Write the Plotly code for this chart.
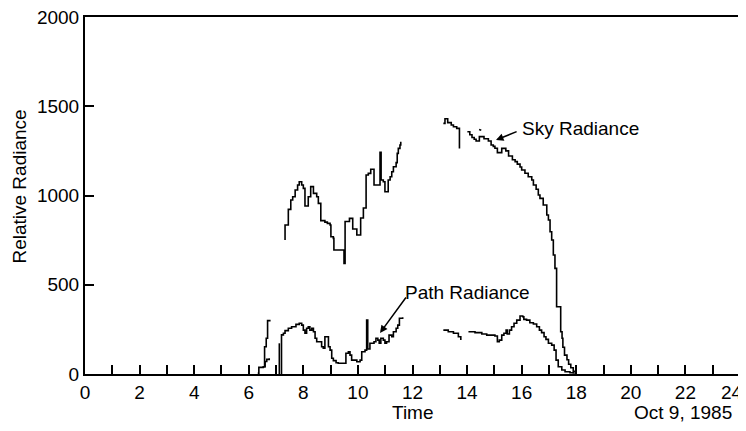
import plotly.graph_objects as go

# ---------------- data (time in hours, relative radiance) ----------------
sky1_t = [7.33, 7.33, 7.45, 7.54, 7.61, 7.70, 7.79, 7.85, 7.94, 8.00, 8.06, 8.18, 8.27, 8.37, 8.49,
          8.55, 8.64, 8.79, 8.88, 8.98, 9.01, 9.10, 9.12, 9.49, 9.53, 9.69, 9.81, 9.96, 10.10,
          10.20, 10.30, 10.38, 10.47, 10.59, 10.81, 10.85, 10.93, 10.99, 11.11, 11.18, 11.24,
          11.30, 11.40, 11.44, 11.48, 11.54, 11.57]
sky1_v = [751, 835, 922, 975, 993, 1031, 1059, 1077, 1059, 1040, 941, 993, 1050, 1012, 993,
          956, 859, 851, 844, 835, 769, 760, 695, 620, 854, 872, 812, 779, 874,
          930, 1115, 1124, 1147, 1059, 1242, 1087, 1077, 1021, 1087, 1105, 1133,
          1161, 1184, 1236, 1264, 1283, 1301]

sky2a_t = [13.13, 13.19, 13.29, 13.42, 13.50, 13.62, 13.72]
sky2a_v = [1404, 1430, 1408, 1395, 1385, 1376, 1264]

sky_dash_t = [14.44, 14.52]
sky_dash_v = [1370, 1366]

sky2b_t = [14.01, 14.10, 14.18, 14.26, 14.33, 14.45, 14.62, 14.78, 14.88, 14.96, 15.02, 15.11,
           15.27, 15.42, 15.52, 15.66, 15.76, 15.84, 15.94, 16.00, 16.12, 16.24, 16.37, 16.43,
           16.53, 16.61, 16.67, 16.79, 16.92, 16.98, 17.04, 17.10, 17.16, 17.22, 17.28, 17.43,
           17.48, 17.51, 17.57, 17.66, 17.72, 17.80, 17.89, 17.96]
sky2b_v = [1357, 1340, 1325, 1315, 1305, 1330, 1318, 1305, 1283, 1275, 1265, 1240,
           1264, 1250, 1221, 1200, 1190, 1176, 1160, 1143, 1125, 1105, 1087, 1059,
           1035, 1003, 984, 947, 891, 863, 797, 751, 667, 592, 377, 237,
           200, 150, 106, 80, 55, 35, 15, 0]

early_hi_t = [6.53, 6.58, 6.64, 6.69, 6.80]
early_hi_v = [41, 153, 200, 299, 299]

early_lo_t = [6.33, 6.37, 6.53, 6.60, 6.66, 6.75]
early_lo_v = [5, 37, 41, 70, 82, 88]

spike_t = [7.12, 7.12]
spike_v = [0, 172]

path1_t = [7.20, 7.20, 7.27, 7.33, 7.45, 7.57, 7.73, 7.85, 7.94, 8.00, 8.06, 8.12, 8.18, 8.24,
           8.31, 8.37, 8.43, 8.49, 8.67, 8.73, 8.79, 8.92, 8.98, 9.04, 9.10, 9.20, 9.28, 9.56,
           9.65, 9.71, 9.77, 9.96, 10.08, 10.14, 10.26, 10.32, 10.36, 10.44, 10.59, 10.66,
           10.73, 10.78, 10.84, 10.93, 10.99, 11.05, 11.14, 11.24, 11.30, 11.40, 11.46, 11.52,
           11.64]
path1_v = [0, 219, 228, 243, 256, 265, 278, 284, 274, 246, 228, 256, 265, 246,
           256, 237, 200, 181, 153, 144, 209, 153, 134, 88, 75, 63, 60, 116,
           125, 106, 78, 69, 78, 125, 134, 302, 140, 172, 181, 200,
           190, 172, 200, 190, 172, 181, 218, 209, 237, 256, 274, 312,
           318]

path2a_t = [13.13, 13.31, 13.50, 13.68, 13.77]
path2a_v = [246, 237, 228, 209, 190]

path2b_t = [14.05, 14.29, 14.54, 14.72, 15.02, 15.11, 15.18, 15.27, 15.35, 15.43, 15.47, 15.55,
            15.63, 15.72, 15.82, 15.94, 16.04, 16.08, 16.18, 16.30, 16.43, 16.55, 16.65, 16.73,
            16.82, 16.89, 16.98, 17.10, 17.19, 17.26, 17.34, 17.47, 17.59, 17.77, 17.89]
path2b_v = [237, 232, 224, 218, 213, 181, 190, 218, 228, 246, 224, 246,
            265, 284, 302, 325, 321, 306, 302, 287, 280, 265, 246, 232,
            209, 194, 172, 162, 134, 78, 41, 22, 13, 7, 2]

x_tickvals = list(range(0, 25, 2))
x_ticktext = [str(v) for v in x_tickvals[:-1]] + [""]   # "24" drawn as an annotation (kept inside the page)
last_x_label = str(x_tickvals[-1])
y_tickvals = [0, 500, 1000, 1500, 2000]
y_ticktext = [str(v) for v in y_tickvals]

FONT = "Liberation Sans, Arial, Helvetica, sans-serif"
FS = 19

fig = go.Figure()
segments = [
    (sky1_t, sky1_v, "hv"), (sky2a_t, sky2a_v, "hv"), (sky_dash_t, sky_dash_v, "linear"),
    (sky2b_t, sky2b_v, "hv"), (early_hi_t, early_hi_v, "hv"), (early_lo_t, early_lo_v, "hv"),
    (spike_t, spike_v, "linear"), (path1_t, path1_v, "hv"), (path2a_t, path2a_v, "hv"),
    (path2b_t, path2b_v, "hv"),
]
for t, v, shape in segments:
    fig.add_trace(go.Scatter(x=t, y=v, mode="lines", line=dict(color="black", width=1.6, shape=shape),
                             showlegend=False, hoverinfo="skip"))

# the page body adds an 8px offset; margins are reduced accordingly
fig.update_layout(
    width=738, height=415,
    margin=dict(l=77, r=6, t=9, b=49, autoexpand=False),
    paper_bgcolor="white", plot_bgcolor="white",
    font=dict(family=FONT, size=FS, color="black"),
    showlegend=False,
)
fig.update_xaxes(range=[0, 24], tickvals=x_tickvals, ticktext=x_ticktext, automargin=False,
                 ticklabeloverflow="allow",
                 ticks="inside", ticklen=9, tickwidth=2, tickcolor="black",
                 minor=dict(dtick=1, ticks="inside", ticklen=9, tickwidth=2, tickcolor="black"),
                 showline=True, linewidth=2, linecolor="black", mirror=True,
                 showgrid=False, zeroline=False, tickfont=dict(size=FS))
fig.update_yaxes(range=[0, 2000], tickvals=y_tickvals, ticktext=y_ticktext, automargin=False,
                 ticklabeloverflow="allow",
                 ticks="inside", ticklen=9, tickwidth=2, tickcolor="black",
                 showline=True, linewidth=2, linecolor="black", mirror=True,
                 showgrid=False, zeroline=False, tickfont=dict(size=FS))

fig.add_annotation(x=x_tickvals[-1], y=0, xref="x", yref="paper", xanchor="right", xshift=5,
                   yanchor="middle", yshift=-18, text=last_x_label, showarrow=False,
                   font=dict(size=FS))
fig.add_annotation(x=12, y=0, xref="x", yref="paper", yshift=-38, yanchor="middle",
                   text="Time", showarrow=False, font=dict(size=FS))
fig.add_annotation(x=21.9, y=0, xref="x", yref="paper", yshift=-38, yanchor="middle",
                   text="Oct 9, 1985", showarrow=False, font=dict(size=FS))
fig.add_annotation(x=0, y=1050, xref="paper", yref="y", xshift=-65, xanchor="center",
                   yanchor="middle", text="Relative Radiance",
                   textangle=-90, showarrow=False, font=dict(size=FS))

fig.add_annotation(x=18.17, y=1378, xref="x", yref="y", text="Sky Radiance",
                   showarrow=False, font=dict(size=FS))
fig.add_annotation(x=15.06, y=1311, ax=15.87, ay=1361, xref="x", yref="y", axref="x", ayref="y",
                   text="", showarrow=True, arrowhead=2, arrowsize=1, arrowwidth=1.5, arrowcolor="black")
fig.add_annotation(x=14.03, y=454, xref="x", yref="y", text="Path Radiance",
                   showarrow=False, font=dict(size=FS))
fig.add_annotation(x=10.81, y=230, ax=11.8, ay=437, xref="x", yref="y", axref="x", ayref="y",
                   text="", showarrow=True, arrowhead=2, arrowsize=1, arrowwidth=1.5, arrowcolor="black")

fig.write_html("out.html")
